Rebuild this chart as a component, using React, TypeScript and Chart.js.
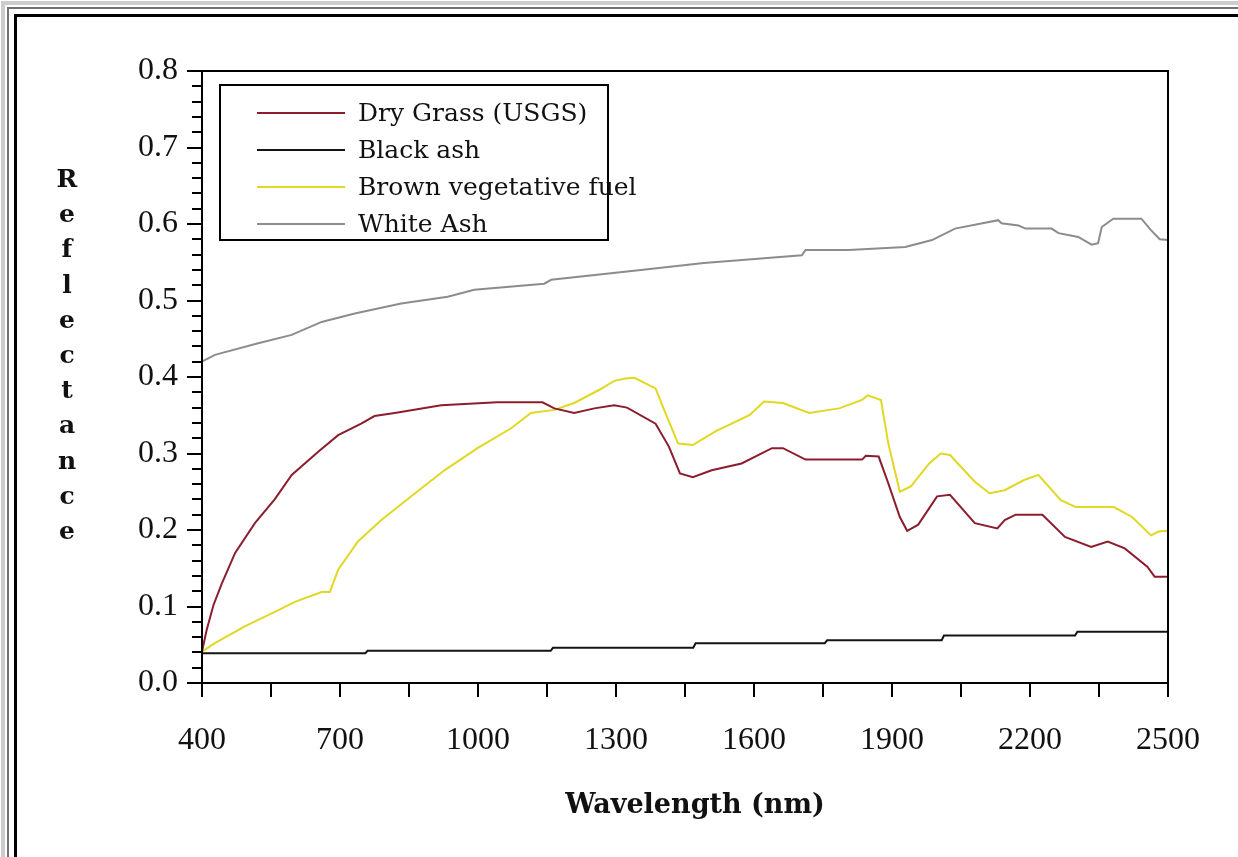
import React, { useEffect, useRef } from "react";
import { Chart, registerables } from "chart.js";

Chart.register(...registerables);

// ---------- data ----------
const seriesLabels = ["Dry Grass (USGS)", "Black ash", "Brown vegetative fuel", "White Ash"];
const seriesColors = ["#8c1d2e", "#141414", "#e0d822", "#8c8c8c"];

const dryGrassWl = [400, 410, 425, 443, 472, 515, 558, 595, 652, 696, 746, 775, 819, 920, 1042, 1140, 1166, 1209, 1253, 1296, 1324, 1386, 1415, 1439, 1467, 1508, 1573, 1639, 1663, 1712, 1835, 1843, 1871, 1892, 1917, 1933, 1957, 1998, 2026, 2080, 2129, 2145, 2169, 2227, 2276, 2333, 2369, 2406, 2455, 2471, 2500];
const dryGrassR = [0.041, 0.069, 0.102, 0.130, 0.170, 0.209, 0.240, 0.272, 0.302, 0.324, 0.339, 0.349, 0.353, 0.363, 0.367, 0.367, 0.359, 0.353, 0.359, 0.363, 0.360, 0.339, 0.309, 0.274, 0.269, 0.278, 0.287, 0.307, 0.307, 0.292, 0.292, 0.297, 0.296, 0.261, 0.217, 0.199, 0.207, 0.244, 0.246, 0.209, 0.202, 0.213, 0.220, 0.220, 0.191, 0.178, 0.185, 0.176, 0.152, 0.139, 0.139];

const blackAshWl = [400, 755, 760, 1158, 1163, 1468, 1473, 1754, 1759, 2008, 2013, 2298, 2303, 2500];
const blackAshR = [0.039, 0.039, 0.042, 0.042, 0.046, 0.046, 0.052, 0.052, 0.056, 0.056, 0.062, 0.062, 0.067, 0.067];

const brownFuelWl = [400, 428, 493, 565, 602, 660, 678, 696, 739, 790, 855, 927, 999, 1072, 1115, 1166, 1209, 1263, 1296, 1320, 1340, 1386, 1402, 1435, 1467, 1516, 1590, 1622, 1663, 1720, 1785, 1835, 1847, 1876, 1892, 1917, 1941, 1981, 2006, 2026, 2080, 2112, 2145, 2186, 2218, 2267, 2300, 2382, 2422, 2463, 2480, 2500];
const brownFuelR = [0.041, 0.052, 0.074, 0.095, 0.106, 0.119, 0.119, 0.148, 0.185, 0.213, 0.244, 0.278, 0.307, 0.333, 0.353, 0.357, 0.366, 0.383, 0.395, 0.398, 0.399, 0.385, 0.361, 0.313, 0.311, 0.329, 0.350, 0.368, 0.366, 0.353, 0.359, 0.370, 0.376, 0.370, 0.313, 0.250, 0.257, 0.287, 0.300, 0.298, 0.263, 0.248, 0.252, 0.265, 0.272, 0.239, 0.230, 0.230, 0.217, 0.193, 0.198, 0.199];

const whiteAshWl = [400, 428, 522, 595, 660, 732, 833, 934, 992, 1144, 1159, 1354, 1491, 1574, 1704, 1712, 1806, 1929, 1987, 2037, 2131, 2138, 2175, 2190, 2247, 2262, 2305, 2334, 2348, 2356, 2381, 2442, 2463, 2482, 2500];
const whiteAshR = [0.420, 0.429, 0.444, 0.455, 0.472, 0.483, 0.496, 0.505, 0.514, 0.522, 0.527, 0.540, 0.549, 0.553, 0.559, 0.566, 0.566, 0.570, 0.579, 0.594, 0.605, 0.601, 0.598, 0.594, 0.594, 0.588, 0.583, 0.573, 0.575, 0.596, 0.607, 0.607, 0.592, 0.580, 0.579];

const xMin = 400;
const xMax = 2500;
const xTickStep = 150;
const xLabelStep = 300;
const yMin = 0;
const yMax = 0.8;
const yTickStep = 0.02;
const yTitle = "Reflectance";
const xTitle = "Wavelength (nm)";

const seriesWl = [dryGrassWl, blackAshWl, brownFuelWl, whiteAshWl];
const seriesR = [dryGrassR, blackAshR, brownFuelR, whiteAshR];

const isMajorY = (v: number) => Math.abs(v * 10 - Math.round(v * 10)) < 1e-6;

const decorPlugin = {
  id: "decor",
  afterDraw(chart: any) {
    const { ctx, chartArea: a, scales } = chart;
    const xs = scales.x;
    const ys = scales.y;
    ctx.save();
    ctx.strokeStyle = "#000";
    ctx.lineWidth = 2;
    ctx.strokeRect(a.left, a.top, a.right - a.left, a.bottom - a.top);
    ctx.beginPath();
    xs.ticks.forEach((t: any) => {
      const px = Math.round(xs.getPixelForValue(t.value));
      ctx.moveTo(px, a.bottom);
      ctx.lineTo(px, a.bottom + 14);
    });
    ys.ticks.forEach((t: any) => {
      const py = Math.round(ys.getPixelForValue(t.value));
      const len = isMajorY(t.value) ? 15 : 10;
      ctx.moveTo(a.left - len, py);
      ctx.lineTo(a.left, py);
    });
    ctx.stroke();

    // legend box
    const lx = a.left + 18;
    const ly = a.top + 14;
    ctx.lineWidth = 2;
    ctx.strokeRect(lx, ly, 388, 155);
    chart.data.datasets.forEach((ds: any, i: number) => {
      const ry = a.top + 42 + i * 37;
      ctx.strokeStyle = ds.borderColor;
      ctx.lineWidth = 2;
      ctx.beginPath();
      ctx.moveTo(lx + 37, ry);
      ctx.lineTo(lx + 125, ry);
      ctx.stroke();
      ctx.fillStyle = "#111";
      ctx.font = '25px "DejaVu Serif"';
      ctx.textAlign = "left";
      ctx.textBaseline = "middle";
      ctx.fillText(ds.label, lx + 138, ry + 1);
    });

    // vertical stacked y title
    ctx.fillStyle = "#111";
    ctx.font = 'bold 25px "DejaVu Serif"';
    ctx.textAlign = "center";
    ctx.textBaseline = "alphabetic";
    yTitle.split("").forEach((ch, i) => {
      ctx.fillText(ch, a.left - 135, a.top + 116 + i * 35.2);
    });

    // x title
    ctx.font = 'bold 27px "DejaVu Serif"';
    ctx.textAlign = "center";
    ctx.textBaseline = "middle";
    ctx.fillText(xTitle, a.left + 493, a.bottom + 123);
    ctx.restore();
  },
};

export default function App() {
  const canvasRef = useRef<HTMLCanvasElement | null>(null);

  useEffect(() => {
    if (!canvasRef.current) return;
    const datasets = seriesLabels.map((label, i) => ({
      label,
      data: seriesWl[i].map((x, j) => ({ x, y: seriesR[i][j] })),
      borderColor: seriesColors[i],
      backgroundColor: seriesColors[i],
      borderWidth: 2,
      pointRadius: 0,
      tension: 0,
      fill: false,
    }));
    const tickFont = { family: '"Liberation Serif"', size: 32 };
    const chart = new Chart(canvasRef.current, {
      type: "line",
      data: { datasets },
      options: {
        animation: false,
        responsive: false,
        layout: { padding: { top: 71, right: 64, left: 0, bottom: 0 } },
        plugins: { legend: { display: false }, tooltip: { enabled: false } },
        scales: {
          x: {
            type: "linear",
            min: xMin,
            max: xMax,
            afterFit: (s: any) => {
              s.height = 174;
            },
            ticks: {
              stepSize: xTickStep,
              autoSkip: false,
              maxRotation: 0,
              padding: 38,
              font: tickFont,
              color: "#111",
              callback: (v: any) => ((Number(v) - xMin) % xLabelStep === 0 ? String(v) : ""),
            },
            grid: { drawOnChartArea: false, drawTicks: false },
            border: { display: true, color: "#000", width: 2 },
            title: { display: false },
          },
          y: {
            type: "linear",
            min: yMin,
            max: yMax,
            afterFit: (s: any) => {
              s.width = 202;
            },
            ticks: {
              stepSize: yTickStep,
              autoSkip: false,
              padding: 24,
              font: tickFont,
              color: "#111",
              callback: (v: any) => (isMajorY(Number(v)) ? Number(v).toFixed(1) : ""),
            },
            grid: { drawOnChartArea: false, drawTicks: false },
            border: { display: true, color: "#000", width: 2 },
          },
        },
      } as any,
      plugins: [decorPlugin],
    });
    return () => chart.destroy();
  }, []);

  return (
    <div
      style={{
        position: "fixed",
        left: 0,
        top: 0,
        width: 1238,
        height: 857,
        overflow: "hidden",
        background: "#fff",
      }}
    >
      <div style={{ position: "absolute", left: 1, top: 1, width: 2000, height: 2000, border: "4px solid #cccccc" }} />
      <div style={{ position: "absolute", left: 7, top: 7, width: 2000, height: 2000, border: "2px solid #737373" }} />
      <div style={{ position: "absolute", left: 14, top: 14, width: 2000, height: 2000, border: "3px solid #000" }} />
      <canvas
        ref={canvasRef}
        width={1238}
        height={857}
        style={{ position: "absolute", left: 0, top: 0, width: 1238, height: 857 }}
      />
    </div>
  );
}
